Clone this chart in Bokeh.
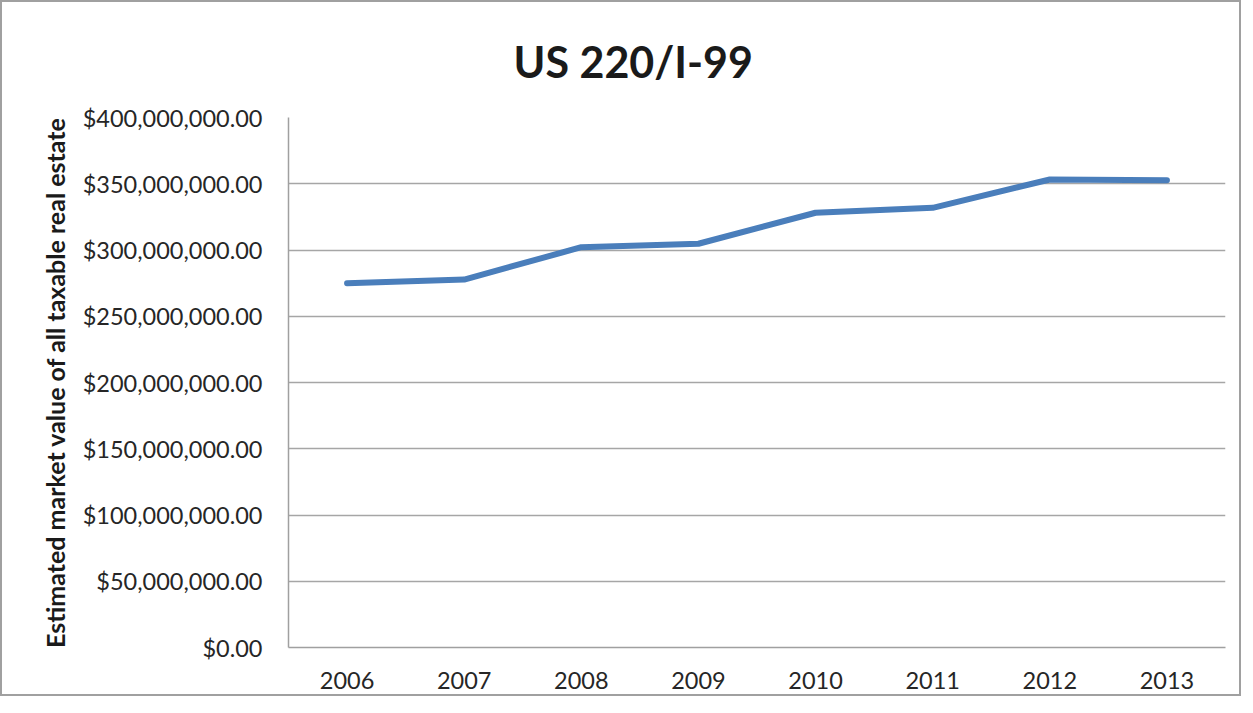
from bokeh.plotting import figure
from bokeh.models import FactorRange, Range1d, FixedTicker, NumeralTickFormatter, Title
from bokeh.embed import file_html
from bokeh.resources import INLINE

years = ["2006", "2007", "2008", "2009", "2010", "2011", "2012", "2013"]
values = [274.9e6, 277.7e6, 302.1e6, 304.7e6, 328.1e6, 331.8e6, 353.2e6, 352.7e6]
y_ticks = [0, 50e6, 100e6, 150e6, 200e6, 250e6, 300e6, 350e6, 400e6]

FONT = "Lato"

p = figure(width=1241, height=696, x_range=FactorRange(*years), y_range=Range1d(0, 400e6),
           output_backend="svg", toolbar_location=None,
           min_border_left=286, min_border_right=18, min_border_top=115, min_border_bottom=51)
p.styles = {"border": "2px solid #a0a0a0"}

t = Title(text="US 220/I-99", align="left", vertical_align="top", text_font=FONT,
          text_font_size="43px", text_font_style="bold", text_color="#1a1a1a",
          offset=225, standoff=58)
p.add_layout(t, "above")
p.title.visible = False

p.line(years, values, line_color="#4a7ebb", line_width=6, line_cap="round", line_join="round")

p.outline_line_color = None
p.xgrid.grid_line_color = None
p.ygrid.grid_line_color = "#a6a6a6"
p.ygrid.grid_line_width = 1.5
p.yaxis.ticker = FixedTicker(ticks=y_ticks)
p.yaxis.formatter = NumeralTickFormatter(format="$0,0.00")

for ax in (p.xaxis, p.yaxis):
    ax.axis_line_color = "#a0a0a0"
    ax.axis_line_width = 1.5
    ax.major_tick_line_color = None
    ax.minor_tick_line_color = None
    ax.major_tick_out = 0
    ax.major_tick_in = 0
    ax.major_label_text_font = FONT
    ax.major_label_text_font_size = "23.5px"
    ax.major_label_text_color = "#262626"

p.yaxis.major_label_standoff = 26
p.xaxis.major_label_standoff = 24
p.yaxis.axis_label = "Estimated market value of all taxable real estate"
p.yaxis.axis_label_text_font = FONT
p.yaxis.axis_label_text_font_size = "25px"
p.yaxis.axis_label_text_font_style = "bold"
p.yaxis.axis_label_text_color = "#1a1a1a"
p.yaxis.axis_label_standoff = 10

open("out.html", "w").write(file_html(p, INLINE))
